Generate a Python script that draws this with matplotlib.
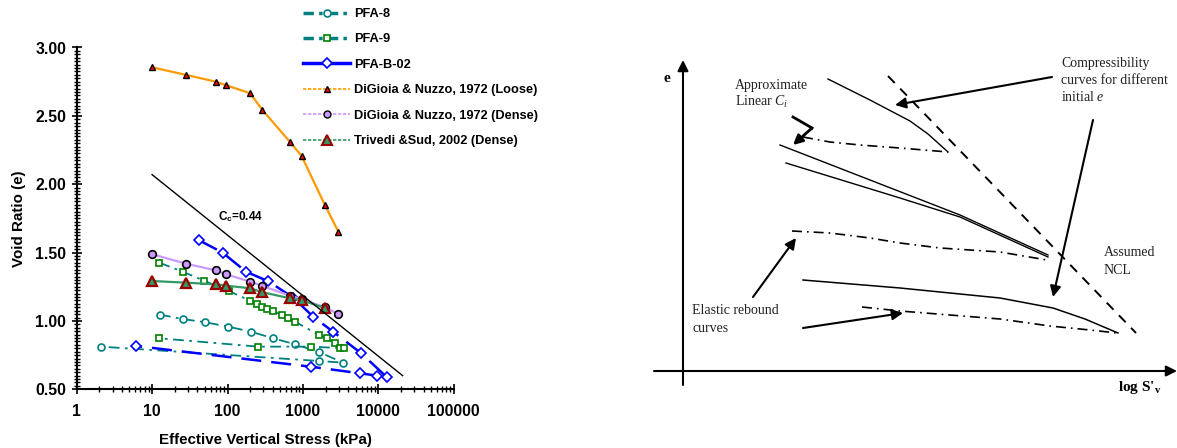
import matplotlib
matplotlib.use("Agg")
import matplotlib.pyplot as plt
from matplotlib.lines import Line2D
from matplotlib.ticker import MultipleLocator, FormatStrFormatter, LogLocator, NullFormatter

plt.rcParams['font.family'] = 'Liberation Sans'
plt.rcParams['mathtext.fontset'] = 'custom'
plt.rcParams['mathtext.rm'] = 'Liberation Serif'
plt.rcParams['mathtext.it'] = 'Liberation Serif:italic'
plt.rcParams['mathtext.sf'] = 'Liberation Sans:bold'
plt.rcParams['mathtext.bf'] = 'Liberation Serif:bold'

# ---- left chart: void ratio vs effective vertical stress (kPa)
pfa8_s = [12.7, 25.5, 51, 103, 205, 405, 790, 1650, 3430, 1650, 2.1]
pfa8_e = [1.046, 1.014, 0.99, 0.958, 0.921, 0.873, 0.829, 0.771, 0.695, 0.707, 0.812]

pfa9_s = [12.5, 25.5, 49, 104, 199, 244, 284, 331, 398, 524, 640, 785,
          1634, 2070, 2670, 3100, 3540, 1270, 256, 12.5]
pfa9_e = [1.426, 1.36, 1.294, 1.219, 1.148, 1.124, 1.104, 1.09, 1.073, 1.044, 1.02, 0.995,
          0.897, 0.873, 0.836, 0.80, 0.80, 0.812, 0.812, 0.873]

pfab_s = [42, 86, 176, 348, 746, 1374, 2530, 5850, 12900, 9600, 5720, 1280, 6.1]
pfab_e = [1.59, 1.50, 1.36, 1.29, 1.17, 1.03, 0.92, 0.766, 0.59, 0.60, 0.617, 0.665, 0.817]

dig_s = [10, 28, 70, 96, 200, 290, 670, 960, 1950, 2950]
loose_e = [2.855, 2.80, 2.75, 2.724, 2.665, 2.543, 2.311, 2.207, 1.85, 1.653]
dense_e = [1.488, 1.419, 1.37, 1.341, 1.287, 1.256, 1.185, 1.16, 1.10, 1.051]

triv_s = [10, 28, 70, 96, 200, 290, 670, 960, 1950]
triv_e = [1.292, 1.28, 1.268, 1.258, 1.239, 1.21, 1.166, 1.151, 1.095]

cc_s = [10, 21000]
cc_e = [2.07, 0.60]

labels = ["PFA-8", "PFA-9", "PFA-B-02", "DiGioia & Nuzzo, 1972 (Loose)",
          "DiGioia & Nuzzo, 1972 (Dense)", "Trivedi &Sud, 2002 (Dense)"]

# ---- right schematic (coordinates read in picture pixels)
ncl_x = [888, 1136]
ncl_y = [76, 333]
top_x = [828, 870, 910, 928, 948]
top_y = [79, 100, 121, 134, 152]
top_reb_x = [803, 830, 860, 900, 948]
top_reb_y = [137, 142, 145, 148, 152]
midA_x = [780, 960, 1048]
midA_y = [145, 215, 255]
midB_x = [786, 900, 960, 1048]
midB_y = [163, 198, 217, 257]
mid_reb_x = [792, 830, 870, 900, 940, 1000, 1047]
mid_reb_y = [231, 233, 238, 243, 248, 252, 260]
low_x = [803, 900, 1000, 1053, 1085, 1118]
low_y = [280, 288, 298, 308, 319, 333]
low_reb_x = [862, 900, 950, 1000, 1050, 1090, 1117]
low_reb_y = [307, 311, 315, 319, 326, 330, 333]

fig = plt.figure(figsize=(11.77, 4.48), dpi=100)

ax = fig.add_axes([76.7 / 1177, 58.7 / 448, 377 / 1177, 341.8 / 448])
ax.set_xscale('log')

teal = '#008080'
ax.plot(pfa8_s, pfa8_e, color=teal, lw=1.3, dashes=(6, 3, 1.5, 3),
        marker='o', ms=5, mfc='white', mec=teal, mew=1.2)
ax.plot(pfa9_s, pfa9_e, color=teal, lw=1.3, dashes=(6, 3, 1.5, 3),
        marker='s', ms=5, mfc='white', mec='#008000', mew=1.2)
ax.plot(pfab_s, pfab_e, color='#0000FF', lw=1.8, dashes=(8, 4),
        marker='D', ms=4.8, mfc='white', mec='#0000FF', mew=1.2)
ax.plot(dig_s, loose_e, color='#FF9900', lw=1.6,
        marker='^', ms=5, mfc='#FF0000', mec='black', mew=1.0)
ax.plot(dig_s, dense_e, color='#CC99FF', lw=1.6,
        marker='o', ms=5.5, mfc='#CC99FF', mec='black', mew=1.2)
ax.plot(triv_s, triv_e, color='#339966', lw=1.6,
        marker='^', ms=6.5, mfc='#339966', mec='#990000', mew=1.6)
ax.plot(cc_s, cc_e, color='black', lw=1.0)
ax.text(75, 1.76, r"C$_\mathsf{c}$=0.44", fontsize=8.5, fontweight='bold', va='center')

ax.set_xlim(1, 100000)
ax.set_ylim(0.5, 3.0)
ax.xaxis.set_minor_locator(LogLocator(base=10, subs=range(2, 10), numticks=10))
ax.xaxis.set_minor_formatter(NullFormatter())
ax.set_xticks([1, 10, 100, 1000, 10000, 100000])
ax.set_xticklabels(['1', '10', '100', '1000', '10000', '100000'])
ax.yaxis.set_major_locator(MultipleLocator(0.5))
ax.yaxis.set_minor_locator(MultipleLocator(0.025))
ax.yaxis.set_major_formatter(FormatStrFormatter('%.2f'))

for s in ['top', 'right']:
    ax.spines[s].set_visible(False)
for s in ['left', 'bottom']:
    ax.spines[s].set_linewidth(1.5)
ax.tick_params(which='major', direction='inout', length=7, width=1.2, labelsize=11.3)
ax.tick_params(axis='x', which='major', pad=7)
ax.tick_params(axis='y', which='major', pad=4)
ax.tick_params(which='minor', direction='inout', length=4, width=1.0)
for t in ax.get_xticklabels() + ax.get_yticklabels():
    t.set_fontweight('bold')
ax.set_xlabel("Effective Vertical Stress (kPa)", fontsize=10.9, fontweight='bold', labelpad=10)
ax.set_ylabel("Void Ratio (e)", fontsize=10.9, fontweight='bold', labelpad=7)

handles = [
    Line2D([], [], color=teal, lw=2.5, dashes=(3, 1.5, 1, 1.5), marker='o', ms=5, mfc='white', mec=teal, mew=1.2),
    Line2D([], [], color=teal, lw=2.5, dashes=(3, 1.5, 1, 1.5), marker='s', ms=5, mfc='white', mec='#008000', mew=1.2),
    Line2D([], [], color='#0000FF', lw=2.5, marker='D', ms=5, mfc='white', mec='#0000FF', mew=1.2),
    Line2D([], [], color='#FF9900', lw=1.2, dashes=(2, 1), marker='^', ms=5, mfc='#FF0000', mec='black'),
    Line2D([], [], color='#CC99FF', lw=1.2, dashes=(2, 1), marker='o', ms=5, mfc='#CC99FF', mec='black'),
    Line2D([], [], color='#339966', lw=1.2, dashes=(2, 1), marker='^', ms=7, mfc='#339966', mec='#990000', mew=1.5),
]
fig.legend(handles, labels, loc='upper left', bbox_to_anchor=(303 / 1177, 1 - 8 / 448),
           frameon=False, prop={'size': 9.2, 'weight': 'bold'}, handlelength=3.7,
           handletextpad=0.3, labelspacing=1.05, borderpad=0, borderaxespad=0)

# ---- right schematic
bx = fig.add_axes([600 / 1177, 0, 577 / 1177, 1])
bx.set_xlim(600, 1177)
bx.set_ylim(448, 0)
bx.axis('off')

arrow = dict(arrowstyle='-|>', color='black', lw=1.5, mutation_scale=16, shrinkA=0, shrinkB=0)
bx.annotate('', xy=(683, 60), xytext=(683, 385), arrowprops=arrow)
bx.annotate('', xy=(1177, 371), xytext=(654, 371), arrowprops=arrow)

dashdot = (6, 3, 1, 3)
bx.plot(ncl_x, ncl_y, color='black', lw=1.4, dashes=(5, 4))
bx.plot(top_x, top_y, color='black', lw=1.0)
bx.plot(top_reb_x, top_reb_y, color='black', lw=1.2, dashes=dashdot)
bx.plot(midA_x, midA_y, color='black', lw=1.0)
bx.plot(midB_x, midB_y, color='black', lw=1.0)
bx.plot(mid_reb_x, mid_reb_y, color='black', lw=1.2, dashes=dashdot)
bx.plot(low_x, low_y, color='black', lw=1.1)
bx.plot(low_reb_x, low_reb_y, color='black', lw=1.2, dashes=dashdot)

bx.annotate('', xy=(895, 105), xytext=(1052, 77), arrowprops=arrow)
bx.annotate('', xy=(1053, 297), xytext=(1093, 120), arrowprops=arrow)
bx.annotate('', xy=(796, 238), xytext=(753, 297), arrowprops=arrow)
bx.annotate('', xy=(903, 313), xytext=(803, 328), arrowprops=arrow)
bx.plot([793, 812], [117, 128], color='black', lw=2.0)
bx.annotate('', xy=(793, 145), xytext=(812, 128),
            arrowprops=dict(arrowstyle='-|>', color='black', lw=2.0, mutation_scale=14, shrinkA=0, shrinkB=0))

serif = dict(family='Liberation Serif', fontsize=10, color='#222222', va='center', ha='left')
bx.text(667, 78, 'e', family='Liberation Serif', fontsize=11, fontweight='bold', va='center', ha='center')
bx.text(735, 85, 'Approximate', **serif)
bx.text(735, 102, r'Linear $C_i$', **serif)
bx.text(1061, 63, 'Compressibility', **serif)
bx.text(1061, 81, 'curves for different', **serif)
bx.text(1061, 97, r'initial $e$', **serif)
bx.text(1104, 253, 'Assumed', **serif)
bx.text(1104, 270, 'NCL', **serif)
bx.text(692, 311, 'Elastic rebound', **serif)
bx.text(692, 329, 'curves', **serif)
bx.text(1118, 387, r"log S'$_\mathbf{v}$", family='Liberation Serif', fontsize=11,
        fontweight='bold', va='center', ha='left')

fig.savefig('out.png', dpi=100)
